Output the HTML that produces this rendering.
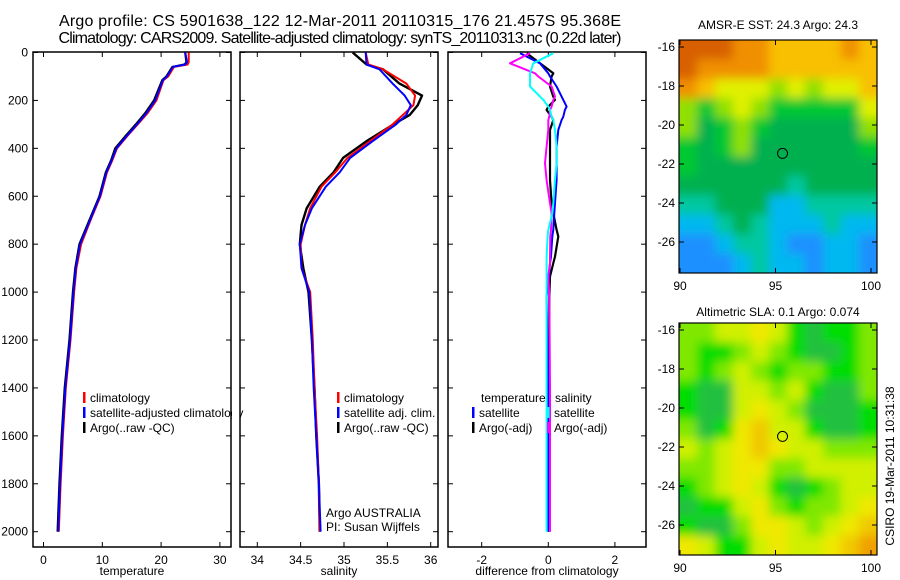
<!DOCTYPE html>
<html><head><meta charset="utf-8"><style>
body{margin:0;background:#fff;}
svg{display:block;font-family:"Liberation Sans",sans-serif;}
text{fill:#000;}
</style></head><body>
<svg id="c" width="900" height="580" viewBox="0 0 900 580">
<defs>
<filter id="blur" x="-10%" y="-10%" width="120%" height="120%"><feGaussianBlur stdDeviation="5"/></filter>
<clipPath id="clipTop"><rect x="679" y="40" width="198" height="233"/></clipPath>
<clipPath id="clipBot"><rect x="679" y="323" width="198" height="232"/></clipPath>
</defs>
<text x="340" y="26" font-size="16" text-anchor="middle" textLength="562">Argo profile: CS 5901638_122 12-Mar-2011 20110315_176 21.457S 95.368E</text>
<text x="340" y="43" font-size="16" text-anchor="middle" textLength="563">Climatology: CARS2009. Satellite-adjusted climatology: synTS_20110313.nc (0.22d later)</text>
<text x="778" y="29" font-size="12" text-anchor="middle">AMSR-E SST: 24.3 Argo: 24.3</text>
<text x="778" y="316" font-size="12" text-anchor="middle">Altimetric SLA: 0.1 Argo: 0.074</text>
<text x="0" y="0" font-size="12" text-anchor="middle" transform="translate(894,466) rotate(-90)">CSIRO 19-Mar-2011 10:31:38</text>
</svg>
<script>
// ---- data ----
const tDepth = [0,40,50,60,100,115,200,253,300,350,400,450,500,600,700,800,900,1000,1200,1400,1600,1800,2000];
const tClim  = [24.7,24.7,24.5,22.2,21.2,20.4,19.2,17.7,16.0,14.2,12.5,11.7,10.8,9.7,8.0,6.4,5.6,5.2,4.6,3.8,3.3,2.9,2.6];
const tSat   = [24.1,24.4,24.1,22.0,21.0,20.3,19.0,17.5,15.9,14.1,12.4,11.6,10.7,9.6,7.9,6.2,5.5,5.1,4.5,3.7,3.2,2.8,2.5];
const tArgo  = [24.1,24.3,24.0,21.9,20.9,20.2,18.8,17.3,15.7,13.9,12.2,11.5,10.6,9.5,7.8,6.1,5.4,5.0,4.4,3.6,3.1,2.7,2.4];
const sDepth = [0,50,70,130,180,220,260,300,370,440,500,560,650,720,800,900,1000,1200,1400,1600,1800,2000];
const sClim  = [35.25,35.28,35.45,35.72,35.82,35.80,35.68,35.56,35.30,35.04,34.90,34.74,34.61,34.55,34.50,34.51,34.61,34.64,34.66,34.69,34.71,34.72];
const sSat   = [35.25,35.26,35.41,35.56,35.70,35.77,35.72,35.60,35.33,35.07,34.95,34.79,34.63,34.55,34.49,34.51,34.60,34.63,34.65,34.68,34.71,34.73];
const sArgo  = [35.10,35.26,35.45,35.64,35.90,35.85,35.76,35.57,35.26,34.99,34.88,34.72,34.57,34.51,34.49,34.53,34.59,34.63,34.66,34.68,34.71,34.72];
const dDepth = [3,45,87,100,142,184,198,226,240,268,282,323,393,462,532,629,671,740,768,852,879,935,1019,1400,2000];
const dTempSat  = [-0.85,-0.25,0.0,0.05,0.25,0.4,0.45,0.55,0.5,0.45,0.4,0.3,0.25,0.25,0.25,0.2,0.18,0.15,0.12,0.08,0.05,0.02,-0.05,0.0,0.0];
const dTempArgo = [-0.65,-0.25,0.15,0.1,0.05,0.15,0.2,0.0,-0.05,0.1,0.15,0.05,0.05,0.05,0.05,0.1,0.15,0.25,0.3,0.2,0.15,0.05,0.03,0.02,0.02];
const dSalSat   = [0.15,-0.45,-0.55,-0.55,-0.55,-0.25,-0.15,0.0,0.05,0.1,0.15,0.2,0.25,0.25,0.2,0.15,0.12,0.0,-0.02,-0.05,-0.05,-0.05,-0.05,-0.05,-0.05];
const dSalArgo  = [-0.55,-1.15,-0.4,-0.3,0.1,0.2,0.15,0.1,0.05,0.03,0.0,0.0,-0.05,-0.1,-0.05,0.05,0.1,0.08,0.06,0.05,0.05,0.0,0.03,0.05,0.05];
const depthTicks = [0,200,400,600,800,1000,1200,1400,1600,1800,2000];
const tTicks = [0,10,20,30];
const sTicks = ["34","34.5","35","35.5","36"];
const dTicks = [-2,0,2];
const lonTicks = [90,95,100];
const latTicks = [-16,-18,-20,-22,-24,-26];
const sstColors = ["#1e90ff","#00b8f0","#00c8a0","#00b050","#00c830","#90e000","#e0f000","#f8c000","#f09000","#d86000"];
const sstGrid = [
[9,9,9,8,8,7,7,7,7,8,7],[9,8,8,8,8,7,7,7,7,7,7],[8,7,6,6,6,5,6,5,6,6,7],[5,4,5,6,5,4,4,4,4,4,6],
[5,3,4,5,4,3,3,3,3,3,5],[4,3,4,5,3,3,3,3,3,3,4],[4,3,3,3,3,3,3,3,3,3,3],[3,3,3,3,3,3,2,3,3,3,3],
[2,2,3,3,3,1,1,2,2,2,2],[1,1,2,3,2,1,1,1,2,1,1],[0,0,1,2,2,1,0,0,1,1,0],[0,0,0,1,2,1,1,0,1,1,0]];
const slaColors = ["#20c040","#00dd00","#80e800","#d0f000","#f0e800","#f0c800","#f0a000"];
const slaGrid = [
[2,2,3,3,4,3,1,0,1,1,2],[2,1,1,2,3,2,1,0,0,1,2],[2,1,2,3,2,1,2,2,1,1,2],[1,0,0,3,3,2,3,1,0,0,2],
[1,0,0,3,4,3,2,0,0,0,1],[2,0,1,4,5,3,3,1,0,0,1],[3,2,3,4,5,4,3,3,2,2,2],[2,2,3,4,4,2,2,3,3,3,3],
[1,2,3,4,3,1,0,1,2,3,3],[0,1,1,3,4,2,1,2,2,3,4],[1,0,0,2,4,4,3,2,3,4,5],[4,3,1,1,3,4,3,3,4,5,6]];
const argoLon = 95.368, argoLat = -21.457;

const svg = document.getElementById('c');
const NS = 'http://www.w3.org/2000/svg';
function mk(tag, attrs, parent){const e=document.createElementNS(NS,tag);for(const k in attrs)e.setAttribute(k,attrs[k]);(parent||svg).appendChild(e);return e;}
const yDepth = d => 52.5 + d*0.2396;
const PT=52, PB=547;

function panel(x0,x1,xf,ticks,xlabel,name){
  const g = mk('g',{});
  
  
  const fr = mk('rect',{x:x0,y:PT,width:x1-x0,height:PB-PT,fill:'none',stroke:'#000','stroke-width':1.5},g);
  
  
  depthTicks.forEach(d=>{
    const y=yDepth(d);
    mk('line',{x1:x0,x2:x0+5,y1:y,y2:y,stroke:'#000'},g);
    mk('line',{x1:x1-5,x2:x1,y1:y,y2:y,stroke:'#000'},g);
  });
  ticks.forEach(t=>{
    const x=xf(+t);
    mk('line',{x1:x,x2:x,y1:PB,y2:PB-5,stroke:'#000'},g);
    mk('line',{x1:x,x2:x,y1:PT,y2:PT+5,stroke:'#000'},g);
    const tl = mk('text',{x:x,y:PB+17,'font-size':12,'text-anchor':'middle'},g);
    tl.textContent=t;
    
    
  });
  const xl = mk('text',{x:(x0+x1)/2,y:575,'font-size':12,'text-anchor':'middle'},g);
  xl.textContent=xlabel;
  
  
  return g;
}
function line(g,depths,vals,xf,color,w,name){
  const pts = depths.map((d,i)=>xf(vals[i]).toFixed(1)+','+yDepth(d).toFixed(1)).join(' ');
  const p = mk('polyline',{points:pts,fill:'none',stroke:color,'stroke-width':w,'stroke-linejoin':'round'},g);
  
  
}
function legend(g,x,y,color,label,name){
  mk('rect',{x:x,y:y-10,width:2.5,height:11,fill:color},g);
  const t = mk('text',{x:x+7,y:y,'font-size':12},g);
  t.textContent=label;
  
  
}

depthTicks.forEach(d=>{
  const t = mk('text',{x:28,y:yDepth(d)+4,'font-size':12,'text-anchor':'end'});
  t.textContent=d;
  
  
});

const xT = v => 43.5 + v*5.88;
const g1 = panel(33,231,xT,tTicks,'temperature','temperature');
line(g1,tDepth,tArgo,xT,'#000',2.2,'temp-argo-line');
line(g1,tDepth,tClim,xT,'#f00',2,'temp-climatology-line');
line(g1,tDepth,tSat,xT,'#00f',2,'temp-satellite-line');
legend(g1,83,402,'#f00','climatology','temp-legend-climatology');
legend(g1,83,417,'#00f','satellite-adjusted climatology','temp-legend-satellite');
legend(g1,83,432,'#000','Argo(..raw -QC)','temp-legend-argo');
mk('rect',{x:232,y:390,width:8,height:50,fill:'#fff'});

const xS = v => 257.3 + (v-34)*86.7;
const g2 = panel(240,438,xS,sTicks,'salinity','salinity');
line(g2,sDepth,sArgo,xS,'#000',2.4,'sal-argo-line');
line(g2,sDepth,sClim,xS,'#f00',2,'sal-climatology-line');
line(g2,sDepth,sSat,xS,'#00f',2,'sal-satellite-line');
legend(g2,337,402,'#f00','climatology','sal-legend-climatology');
legend(g2,337,417,'#00f','satellite adj. clim.','sal-legend-satellite');
legend(g2,337,432,'#000','Argo(..raw -QC)','sal-legend-argo');
const a1 = mk('text',{x:326,y:517,'font-size':12},g2); a1.textContent='Argo AUSTRALIA';


const a2 = mk('text',{x:326,y:531,'font-size':12},g2); a2.textContent='PI: Susan Wijffels';



const xD = v => 548.3 + v*33.3;
const g3 = panel(448,646,xD,dTicks,'difference from climatology','difference');
line(g3,dDepth,dTempArgo,xD,'#000',2.2,'diff-temp-argo-line');
line(g3,dDepth,dTempSat,xD,'#00f',2,'diff-temp-satellite-line');
line(g3,dDepth,dSalArgo,xD,'#f0f',2,'diff-sal-argo-line');
line(g3,dDepth,dSalSat,xD,'#0ff',2,'diff-sal-satellite-line');
const lt = mk('text',{x:481,y:402,'font-size':12},g3); lt.textContent='temperature';


const ls = mk('text',{x:555,y:402,'font-size':12},g3); ls.textContent='salinity';


legend(g3,472,417,'#00f','satellite','diff-legend-temp-satellite');
legend(g3,472,432,'#000','Argo(-adj)','diff-legend-temp-argo');
legend(g3,547,417,'#0ff','satellite','diff-legend-sal-satellite');
legend(g3,547,432,'#f0f','Argo(-adj)','diff-legend-sal-argo');

function map(top,bottom,grid,colors,name,clip){
  const x0=679,x1=877;
  const lonX = v => 680 + (v-90)*19.1;
  const latY = v => top + 7 + (-16 - v)*19.5;
  const g = mk('g',{});
  
  
  const cg = mk('g',{'clip-path':'url(#'+clip+')'},g);
  const bg = mk('g',{filter:'url(#blur)'},cg);
  const rows=grid.length, cols=grid[0].length;
  const cw=(x1-x0)/cols, ch=(bottom-top)/rows;
  grid.forEach((row,r)=>row.forEach((v,c)=>{
    const ex0 = c===0?-12:0, ex1 = c===cols-1?12:0, ey0 = r===0?-12:0, ey1 = r===rows-1?12:0;
    const cell = mk('rect',{x:x0+c*cw+ex0,y:top+r*ch+ey0,width:cw+0.6-ex0+ex1,height:ch+0.6-ey0+ey1,fill:colors[v]},bg);
    
    
  }));
  mk('rect',{x:x0,y:top,width:x1-x0,height:bottom-top,fill:'none',stroke:'#000','stroke-width':1.2},g);
  latTicks.forEach(l=>{
    const y=latY(l);
    mk('line',{x1:x0,x2:x0+5,y1:y,y2:y,stroke:'#000'},g);
    mk('line',{x1:x1-5,x2:x1,y1:y,y2:y,stroke:'#000'},g);
    const t=mk('text',{x:x0-4,y:y+4,'font-size':12,'text-anchor':'end'},g); t.textContent=l;
    
    
  });
  lonTicks.forEach(l=>{
    const x=lonX(l);
    mk('line',{x1:x,x2:x,y1:bottom,y2:bottom-5,stroke:'#000'},g);
    mk('line',{x1:x,x2:x,y1:top,y2:top+5,stroke:'#000'},g);
    const t=mk('text',{x:x,y:bottom+17,'font-size':12,'text-anchor':'middle'},g); t.textContent=l;
    
    
  });
  const c = mk('circle',{cx:lonX(argoLon),cy:latY(argoLat),r:5,fill:'none',stroke:'#000','stroke-width':1},g);
  
  
}
map(40,273,sstGrid,sstColors,'sst-map','clipTop');
map(323,555,slaGrid,slaColors,'sla-map','clipBot');
</script>
</body></html>
